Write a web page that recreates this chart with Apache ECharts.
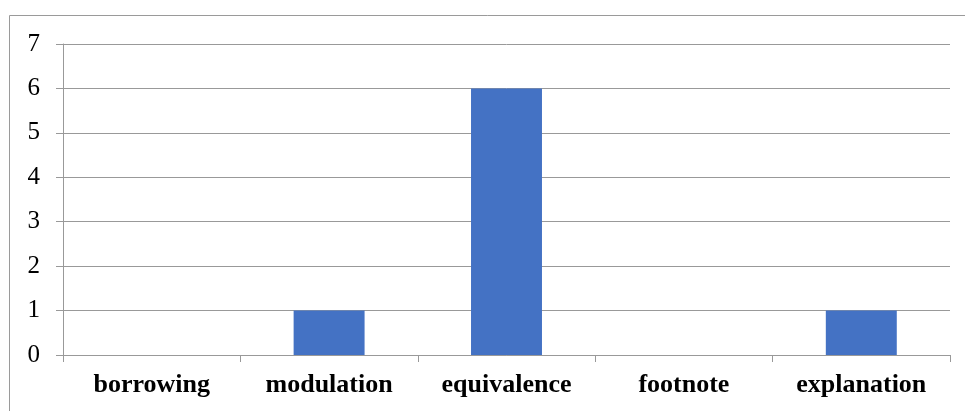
<!DOCTYPE html>
<html>
<head>
<meta charset="utf-8">
<script src="https://cdn.jsdelivr.net/npm/echarts@6/dist/echarts.min.js"></script>
<style>
html,body{margin:0;padding:0;background:#fff;}
#chart{width:965px;height:411px;}
</style>
</head>
<body>
<div id="chart"></div>
<script>
const categories = ['borrowing', 'modulation', 'equivalence', 'footnote', 'explanation'];
const values = [0, 1, 6, 0, 1];
const yTicks = [0, 1, 2, 3, 4, 5, 6, 7];

const chart = echarts.init(document.getElementById('chart'));
chart.setOption({
  animation: false,
  backgroundColor: '#ffffff',
  graphic: [{
    type: 'rect',
    shape: { x: 9.5, y: 15.5, width: 1200, height: 800 },
    style: { fill: 'none', stroke: '#9a9a9a', lineWidth: 1 },
    silent: true
  }],
  grid: { left: 63, right: 15, top: 44, bottom: 56, containLabel: false },
  xAxis: {
    type: 'category',
    data: categories,
    axisLine: { show: true, lineStyle: { color: '#999999', width: 1 } },
    axisTick: { show: true, length: 7, lineStyle: { color: '#999999' } },
    axisLabel: {
      margin: 17,
      fontFamily: '"Liberation Serif", "Times New Roman", serif',
      fontWeight: 'bold',
      fontSize: 26,
      color: '#000000'
    }
  },
  yAxis: {
    type: 'value',
    min: yTicks[0],
    max: yTicks[yTicks.length - 1],
    interval: 1,
    axisLine: { show: true, lineStyle: { color: '#999999', width: 1 } },
    axisTick: { show: true, length: 7, lineStyle: { color: '#999999' } },
    splitLine: { show: true, lineStyle: { color: '#999999', width: 1 } },
    axisLabel: {
      margin: 23,
      fontFamily: '"Liberation Serif", "Times New Roman", serif',
      fontSize: 25,
      color: '#000000'
    }
  },
  series: [{
    type: 'bar',
    data: values,
    barWidth: '40%',
    itemStyle: { color: '#4472C4' }
  }]
});
</script>
</body>
</html>
